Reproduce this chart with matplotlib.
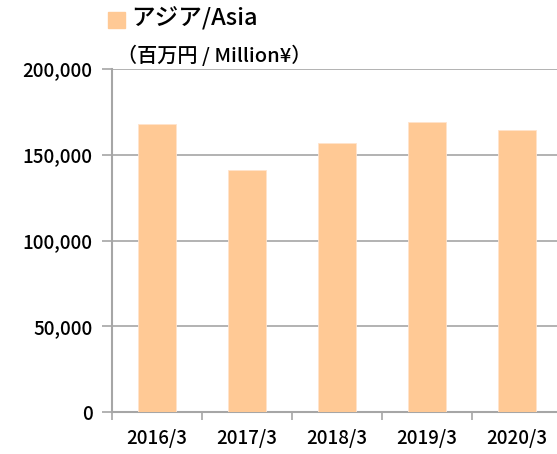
import matplotlib
matplotlib.use("Agg")
import matplotlib.pyplot as plt
from matplotlib.patches import Rectangle

plt.rcParams['font.family'] = ['Noto Sans CJK JP', 'DejaVu Sans']
plt.rcParams['font.weight'] = 'medium'

years = ["2016/3", "2017/3", "2018/3", "2019/3", "2020/3"]
sales = [168000, 141200, 156700, 169300, 164500]
yticks = [0, 50000, 100000, 150000, 200000]

bar_color = "#FFC995"
grid_color = "#A6A6A6"

fig = plt.figure(figsize=(5.57, 4.54), dpi=100)
# axes: left at x=112, right beyond the image edge, bottom y=412, top y=69
ax = fig.add_axes([112 / 557, 1 - 412.3 / 454, 450 / 557, 343.3 / 454])

x = range(len(years))
ax.bar(x, sales, width=0.42, color=bar_color, edgecolor="#FFE3CC", linewidth=0.6, zorder=3)

ax.set_xlim(-0.5, 4.5)
ax.set_ylim(0, 200000)
ax.set_yticks(yticks)
ax.set_yticklabels([f"{v:,}" for v in yticks], fontsize=13.5)
ax.yaxis.grid(True, color=grid_color, linewidth=1.2, zorder=0)
ax.tick_params(axis='y', length=7, width=1.2, color=grid_color, pad=7)

ax.set_xticks(list(x))
ax.set_xticklabels(years, fontsize=13.5)
ax.tick_params(axis='x', length=0, pad=12)
ax.set_xticks([i + 0.5 for i in range(-1, len(years))], minor=True)
ax.tick_params(axis='x', which='minor', length=6, width=1.2, color=grid_color)

for s in ['top', 'right']:
    ax.spines[s].set_visible(False)
for s in ['left', 'bottom']:
    ax.spines[s].set_color(grid_color)
    ax.spines[s].set_linewidth(1.5)

# legend-like title
fig.patches.append(Rectangle((108 / 557, 1 - 28 / 454), 17 / 557, 16 / 454,
                             transform=fig.transFigure, color=bar_color))
fig.text(131 / 557, 1 - 19 / 454, "アジア/Asia", fontsize=17, va='center', ha='left')
fig.text(117 / 557, 1 - 55 / 454, "（百万円 / Million¥）", fontsize=14.5, va='center', ha='left')

fig.savefig("out.png", dpi=100)
